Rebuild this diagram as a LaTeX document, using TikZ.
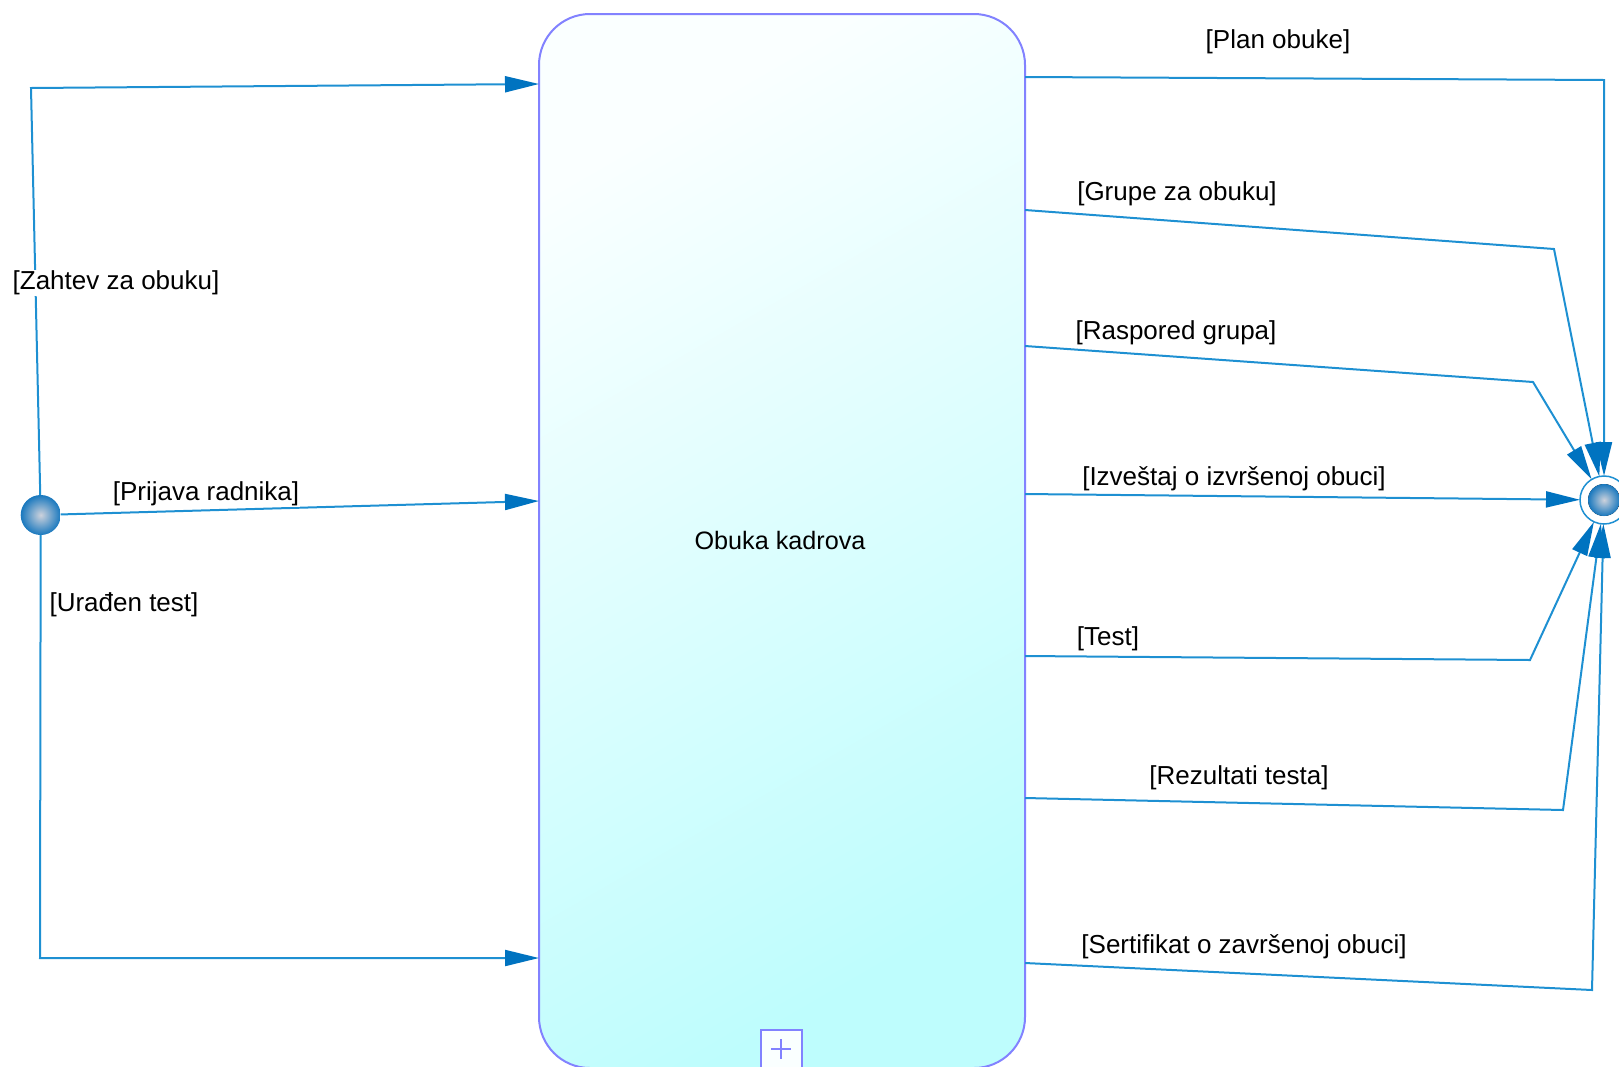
\documentclass[tikz,border=0pt]{standalone}
\usepackage{fontspec}
\setmainfont{Liberation Sans}
\usetikzlibrary{arrows.meta}
\definecolor{flowblue}{RGB}{30,144,210}
\definecolor{tipblue}{RGB}{0,115,192}
\definecolor{boxline}{RGB}{130,130,255}
\definecolor{boxtop}{RGB}{250,255,255}
\definecolor{boxbottom}{RGB}{190,253,253}
\definecolor{balllight}{RGB}{205,210,220}
\definecolor{balldark}{RGB}{25,120,190}
\tikzset{
  flow/.style={flowblue, line width=2pt, -{Triangle[length=34pt,width=16pt,color=tipblue]}},
  lbl/.style={fill=white, inner sep=1pt, font=\fontsize{26pt}{30pt}\selectfont},
}
\begin{document}
\begin{tikzpicture}[x=1pt,y=-1pt,font=\fontsize{25.2pt}{30pt}\selectfont]
    \useasboundingbox (0,0) rectangle (1619,1066);
    \node[draw=boxline, line width=2pt, rounded corners=51pt, top color=boxtop, bottom color=boxbottom, shading angle=30,
          minimum width=486pt, minimum height=1054pt, inner sep=0pt, outer sep=0pt] (proc) at (782,541) {};
    \node (pname) at (780,540) {Obuka kadrova};
    \node[draw=boxline, line width=2pt, fill=boxtop, minimum size=41pt, inner sep=0pt, anchor=north] (expand) at (781.5,1029) {};
    \draw[boxline, line width=1.5pt] (771,1049) -- (791,1049) (781,1039) -- (781,1059);

    \node[circle, minimum size=40pt, inner sep=0pt, outer sep=0pt, inner color=balllight, outer color=balldark] (init) at (40.7,515) {};
    \node[circle, draw=flowblue, line width=1.5pt, minimum size=48pt, inner sep=0pt, outer sep=0pt] (final) at (1604,500) {};
    \fill[inner color=balllight, outer color=balldark] (final) circle (16pt);

    \draw[flow] (init) -- (31,88) -- (proc.west |- 0,84);
    \draw[flow] (init) -- (proc.west |- 0,501);
    \draw[flow] (init) -- (40,958) -- (proc.west |- 0,958);

    \draw[flow] (proc.east |- 0,77) -- (1604,80) -- (final);
    \draw[flow] (proc.east |- 0,210) -- (1554,249) -- (final);
    \draw[flow] (proc.east |- 0,346) -- (1533,382) -- (final);
    \draw[flow] (proc.east |- 0,494) -- (final);
    \draw[flow] (proc.east |- 0,656) -- (1530,660) -- (final);
    \draw[flow] (proc.east |- 0,798) -- (1563,810) -- (final);
    \draw[flow] (proc.east |- 0,963) -- (1592,990) -- (final);

    \node[lbl] (lzahtev) at (116,283) {[Zahtev za obuku]};
    \node[lbl] (lprijava) at (206,494) {[Prijava radnika]};
    \node[lbl] (luradjen) at (124,605) {[Urađen test]};
    \node[lbl] (lplan) at (1278,42) {[Plan obuke]};
    \node[lbl] (lgrupe) at (1177,194) {[Grupe za obuku]};
    \node[lbl] (lraspored) at (1176,333) {[Raspored grupa]};
    \node[lbl] (lizvestaj) at (1234,479) {[Izveštaj o izvršenoj obuci]};
    \node[lbl] (ltest) at (1108,639) {[Test]};
    \node[lbl] (lrezultati) at (1239,778) {[Rezultati testa]};
    \node[lbl] (lsertifikat) at (1244,947) {[Sertifikat o završenoj obuci]};
\end{tikzpicture}
\end{document}
